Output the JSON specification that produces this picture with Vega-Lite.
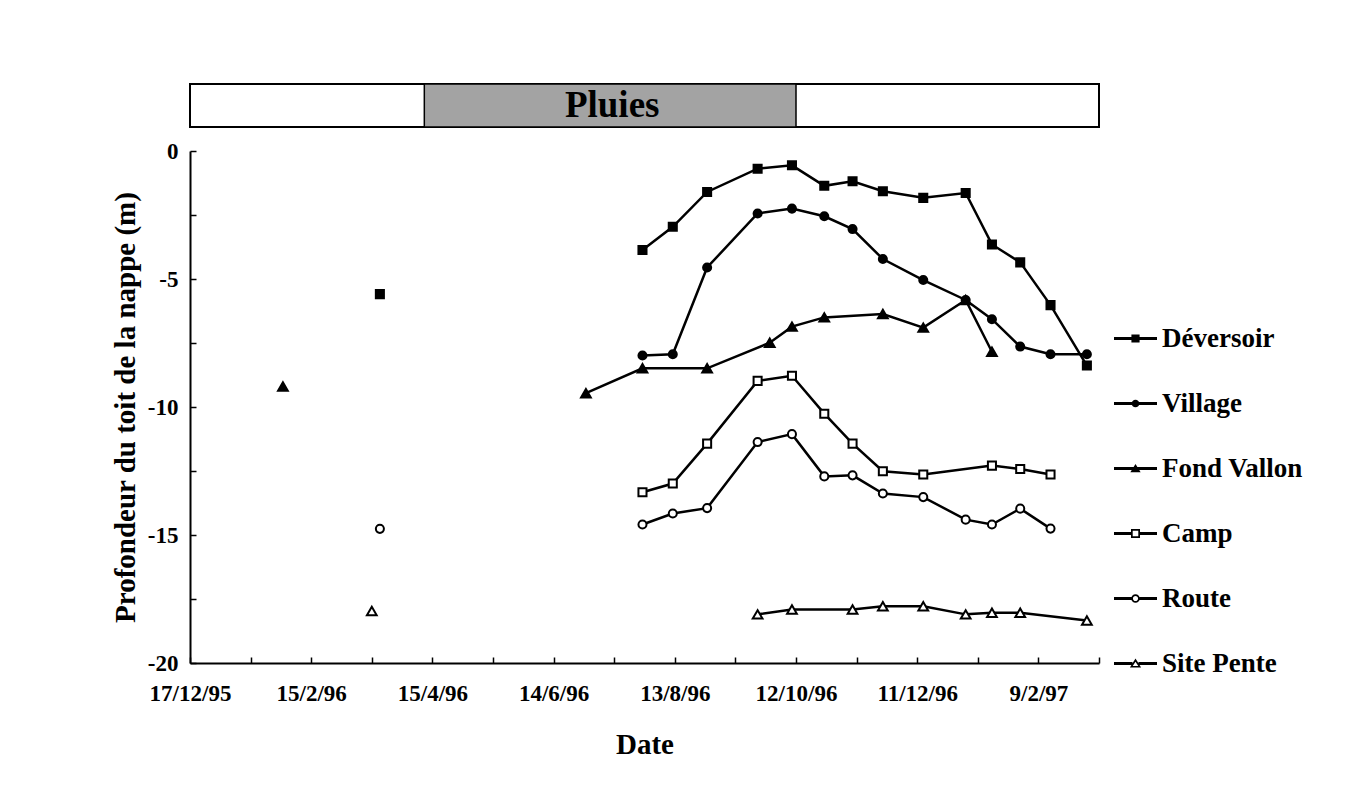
{
  "$schema": "https://vega.github.io/schema/vega-lite/v6.json",
  "background": "white",
  "padding": {"left": 111, "top": 82, "right": 5, "bottom": 5},
  "config": {
    "font": "Liberation Serif",
    "axis": {
      "labelFont": "Liberation Serif",
      "labelFontWeight": "bold",
      "titleFont": "Liberation Serif",
      "titleFontWeight": "bold",
      "labelColor": "black",
      "titleColor": "black",
      "domainColor": "black",
      "tickColor": "black",
      "grid": false
    },
    "legend": {
      "title": null,
      "symbolSize": 1849,
      "symbolOpacity": 1,
      "labelFont": "Liberation Serif",
      "labelFontWeight": "bold",
      "labelFontSize": 27,
      "labelColor": "black",
      "labelOffset": 4,
      "rowPadding": 16,
      "labelLimit": 300
    }
  },
  "datasets": {
    "nappe": [
      {"site": "Déversoir", "date": "1996-03-20", "profondeur": -5.59, "campagne": 1},
      {"site": "Déversoir", "date": "1996-07-28", "profondeur": -3.87, "campagne": 2},
      {"site": "Déversoir", "date": "1996-08-12", "profondeur": -2.96, "campagne": 2},
      {"site": "Déversoir", "date": "1996-08-29", "profondeur": -1.60, "campagne": 2},
      {"site": "Déversoir", "date": "1996-09-23", "profondeur": -0.69, "campagne": 2},
      {"site": "Déversoir", "date": "1996-10-10", "profondeur": -0.56, "campagne": 2},
      {"site": "Déversoir", "date": "1996-10-26", "profondeur": -1.36, "campagne": 2},
      {"site": "Déversoir", "date": "1996-11-09", "profondeur": -1.18, "campagne": 2},
      {"site": "Déversoir", "date": "1996-11-24", "profondeur": -1.57, "campagne": 2},
      {"site": "Déversoir", "date": "1996-12-14", "profondeur": -1.83, "campagne": 2},
      {"site": "Déversoir", "date": "1997-01-04", "profondeur": -1.64, "campagne": 2},
      {"site": "Déversoir", "date": "1997-01-17", "profondeur": -3.65, "campagne": 2},
      {"site": "Déversoir", "date": "1997-01-31", "profondeur": -4.35, "campagne": 2},
      {"site": "Déversoir", "date": "1997-02-15", "profondeur": -6.02, "campagne": 2},
      {"site": "Déversoir", "date": "1997-03-05", "profondeur": -8.38, "campagne": 2},
      {"site": "Village", "date": "1996-07-28", "profondeur": -7.99, "campagne": 2},
      {"site": "Village", "date": "1996-08-12", "profondeur": -7.94, "campagne": 2},
      {"site": "Village", "date": "1996-08-29", "profondeur": -4.55, "campagne": 2},
      {"site": "Village", "date": "1996-09-23", "profondeur": -2.44, "campagne": 2},
      {"site": "Village", "date": "1996-10-10", "profondeur": -2.25, "campagne": 2},
      {"site": "Village", "date": "1996-10-26", "profondeur": -2.55, "campagne": 2},
      {"site": "Village", "date": "1996-11-09", "profondeur": -3.05, "campagne": 2},
      {"site": "Village", "date": "1996-11-24", "profondeur": -4.22, "campagne": 2},
      {"site": "Village", "date": "1996-12-14", "profondeur": -5.04, "campagne": 2},
      {"site": "Village", "date": "1997-01-04", "profondeur": -5.82, "campagne": 2},
      {"site": "Village", "date": "1997-01-17", "profondeur": -6.57, "campagne": 2},
      {"site": "Village", "date": "1997-01-31", "profondeur": -7.64, "campagne": 2},
      {"site": "Village", "date": "1997-02-15", "profondeur": -7.94, "campagne": 2},
      {"site": "Village", "date": "1997-03-05", "profondeur": -7.94, "campagne": 2},
      {"site": "Fond Vallon", "date": "1996-02-01", "profondeur": -9.20, "campagne": 1},
      {"site": "Fond Vallon", "date": "1996-06-30", "profondeur": -9.46, "campagne": 2},
      {"site": "Fond Vallon", "date": "1996-07-28", "profondeur": -8.49, "campagne": 2},
      {"site": "Fond Vallon", "date": "1996-08-29", "profondeur": -8.49, "campagne": 2},
      {"site": "Fond Vallon", "date": "1996-09-29", "profondeur": -7.49, "campagne": 2},
      {"site": "Fond Vallon", "date": "1996-10-10", "profondeur": -6.86, "campagne": 2},
      {"site": "Fond Vallon", "date": "1996-10-26", "profondeur": -6.50, "campagne": 2},
      {"site": "Fond Vallon", "date": "1996-11-24", "profondeur": -6.37, "campagne": 2},
      {"site": "Fond Vallon", "date": "1996-12-14", "profondeur": -6.90, "campagne": 2},
      {"site": "Fond Vallon", "date": "1997-01-04", "profondeur": -5.82, "campagne": 2},
      {"site": "Fond Vallon", "date": "1997-01-17", "profondeur": -7.84, "campagne": 2},
      {"site": "Camp", "date": "1996-07-28", "profondeur": -13.33, "campagne": 2},
      {"site": "Camp", "date": "1996-08-12", "profondeur": -12.99, "campagne": 2},
      {"site": "Camp", "date": "1996-08-29", "profondeur": -11.43, "campagne": 2},
      {"site": "Camp", "date": "1996-09-23", "profondeur": -8.98, "campagne": 2},
      {"site": "Camp", "date": "1996-10-10", "profondeur": -8.78, "campagne": 2},
      {"site": "Camp", "date": "1996-10-26", "profondeur": -10.26, "campagne": 2},
      {"site": "Camp", "date": "1996-11-09", "profondeur": -11.43, "campagne": 2},
      {"site": "Camp", "date": "1996-11-24", "profondeur": -12.51, "campagne": 2},
      {"site": "Camp", "date": "1996-12-14", "profondeur": -12.64, "campagne": 2},
      {"site": "Camp", "date": "1997-01-17", "profondeur": -12.29, "campagne": 2},
      {"site": "Camp", "date": "1997-01-31", "profondeur": -12.42, "campagne": 2},
      {"site": "Camp", "date": "1997-02-15", "profondeur": -12.64, "campagne": 2},
      {"site": "Route", "date": "1996-03-20", "profondeur": -14.76, "campagne": 1},
      {"site": "Route", "date": "1996-07-28", "profondeur": -14.59, "campagne": 2},
      {"site": "Route", "date": "1996-08-12", "profondeur": -14.16, "campagne": 2},
      {"site": "Route", "date": "1996-08-29", "profondeur": -13.95, "campagne": 2},
      {"site": "Route", "date": "1996-09-23", "profondeur": -11.37, "campagne": 2},
      {"site": "Route", "date": "1996-10-10", "profondeur": -11.06, "campagne": 2},
      {"site": "Route", "date": "1996-10-26", "profondeur": -12.71, "campagne": 2},
      {"site": "Route", "date": "1996-11-09", "profondeur": -12.67, "campagne": 2},
      {"site": "Route", "date": "1996-11-24", "profondeur": -13.38, "campagne": 2},
      {"site": "Route", "date": "1996-12-14", "profondeur": -13.52, "campagne": 2},
      {"site": "Route", "date": "1997-01-04", "profondeur": -14.40, "campagne": 2},
      {"site": "Route", "date": "1997-01-17", "profondeur": -14.59, "campagne": 2},
      {"site": "Route", "date": "1997-01-31", "profondeur": -13.97, "campagne": 2},
      {"site": "Route", "date": "1997-02-15", "profondeur": -14.75, "campagne": 2},
      {"site": "Site Pente", "date": "1996-03-16", "profondeur": -17.97, "campagne": 1},
      {"site": "Site Pente", "date": "1996-09-23", "profondeur": -18.10, "campagne": 2},
      {"site": "Site Pente", "date": "1996-10-10", "profondeur": -17.91, "campagne": 2},
      {"site": "Site Pente", "date": "1996-11-09", "profondeur": -17.91, "campagne": 2},
      {"site": "Site Pente", "date": "1996-11-24", "profondeur": -17.78, "campagne": 2},
      {"site": "Site Pente", "date": "1996-12-14", "profondeur": -17.78, "campagne": 2},
      {"site": "Site Pente", "date": "1997-01-04", "profondeur": -18.10, "campagne": 2},
      {"site": "Site Pente", "date": "1997-01-17", "profondeur": -18.04, "campagne": 2},
      {"site": "Site Pente", "date": "1997-01-31", "profondeur": -18.04, "campagne": 2},
      {"site": "Site Pente", "date": "1997-03-05", "profondeur": -18.34, "campagne": 2}
    ],
    "pluies": [
      {"debut": "1996-04-11", "fin": "1996-10-12", "milieu": "1996-07-13", "libelle": "Pluies"}
    ]
  },
  "spacing": 11,
  "vconcat": [
    {
      "width": 909,
      "height": 43,
      "view": {"stroke": "black", "strokeWidth": 2, "fill": "white"},
      "data": {"name": "pluies"},
      "layer": [
        {
          "mark": {"type": "rect", "fill": "#a3a3a3", "stroke": "black", "strokeWidth": 1.5},
          "encoding": {
            "x": {"field": "debut", "type": "temporal", "axis": null,
                  "scale": {"type": "utc", "domain": [{"year": 1995, "month": 12, "date": 17, "utc": true}, {"year": 1997, "month": 3, "date": 11, "utc": true}]}},
            "x2": {"field": "fin"}
          }
        },
        {
          "mark": {"type": "text", "font": "Liberation Serif", "fontWeight": "bold", "fontSize": 37, "color": "black", "baseline": "middle", "align": "center"},
          "encoding": {
            "x": {"field": "milieu", "type": "temporal", "axis": null,
                  "scale": {"type": "utc", "domain": [{"year": 1995, "month": 12, "date": 17, "utc": true}, {"year": 1997, "month": 3, "date": 11, "utc": true}]}},
            "text": {"field": "libelle"}
          }
        }
      ]
    },
    {
      "width": 909,
      "height": 512,
      "view": {"stroke": null},
      "data": {"name": "nappe"},
      "resolve": {"scale": {"shape": "independent"}},
      "encoding": {
        "x": {
          "field": "date", "type": "temporal", "title": "Date",
          "scale": {"type": "utc", "domain": [{"year": 1995, "month": 12, "date": 17, "utc": true}, {"year": 1997, "month": 3, "date": 11, "utc": true}]},
          "axis": {
            "values": [
              {"year": 1995, "month": 12, "date": 17, "utc": true},
              {"year": 1996, "month": 1, "date": 16, "utc": true},
              {"year": 1996, "month": 2, "date": 15, "utc": true},
              {"year": 1996, "month": 3, "date": 16, "utc": true},
              {"year": 1996, "month": 4, "date": 15, "utc": true},
              {"year": 1996, "month": 5, "date": 15, "utc": true},
              {"year": 1996, "month": 6, "date": 14, "utc": true},
              {"year": 1996, "month": 7, "date": 14, "utc": true},
              {"year": 1996, "month": 8, "date": 13, "utc": true},
              {"year": 1996, "month": 9, "date": 12, "utc": true},
              {"year": 1996, "month": 10, "date": 12, "utc": true},
              {"year": 1996, "month": 11, "date": 11, "utc": true},
              {"year": 1996, "month": 12, "date": 11, "utc": true},
              {"year": 1997, "month": 1, "date": 10, "utc": true},
              {"year": 1997, "month": 2, "date": 9, "utc": true},
              {"year": 1997, "month": 3, "date": 11, "utc": true}
            ],
            "labelExpr": "round((datum.value - utc(1995, 11, 17)) / 864e5) % 60 === 0 ? utcFormat(datum.value, '%-d/%-m/%y') : ''",
            "labelFlush": false,
            "labelOverlap": false,
            "labelFontSize": 23,
            "labelPadding": 25,
            "labelAngle": 0,
            "tickSize": -6,
            "tickWidth": 1.5,
            "domainWidth": 2,
            "titleFontSize": 29,
            "titlePadding": 25
          }
        },
        "y": {
          "field": "profondeur", "type": "quantitative",
          "title": "Profondeur du toit de la nappe (m)",
          "scale": {"domain": [-20, 0], "nice": false, "zero": false},
          "axis": {
            "values": [-20, -17.5, -15, -12.5, -10, -7.5, -5, -2.5, 0],
            "labelExpr": "datum.value % 5 === 0 ? '' + datum.value : ''",
            "labelFontSize": 23,
            "labelPadding": 18,
            "tickSize": -6,
            "tickWidth": 1.5,
            "domainWidth": 2,
            "titleFontSize": 29,
            "titlePadding": 7
          }
        }
      },
      "layer": [
        {
          "transform": [{"filter": "datum.campagne === 2"}],
          "mark": {"type": "line", "stroke": "black", "strokeWidth": 2.5},
          "encoding": {"detail": {"field": "site", "type": "nominal"}}
        },
        {
          "transform": [{"filter": "indexof(['Fond Vallon','Site Pente'], datum.site) < 0"}],
          "mark": {"type": "point", "filled": true, "opacity": 1, "stroke": "black", "strokeWidth": 2, "size": 65},
          "encoding": {
            "shape": {
              "field": "site", "type": "nominal",
              "scale": {"domain": ["Déversoir", "Village", "Fond Vallon", "Camp", "Route", "Site Pente"],
                        "range": ["square", "circle", "triangle-up", "square", "circle", "triangle-up"]},
              "legend": null
            },
            "fill": {
              "field": "site", "type": "nominal",
              "scale": {"domain": ["Déversoir", "Village", "Fond Vallon", "Camp", "Route", "Site Pente"],
                        "range": ["black", "black", "black", "white", "white", "white"]},
              "legend": null
            }
          }
        },
        {
          "transform": [{"filter": "indexof(['Fond Vallon','Site Pente'], datum.site) >= 0"}],
          "mark": {"type": "point", "filled": true, "opacity": 1, "stroke": "black", "strokeWidth": 2, "size": 95},
          "encoding": {
            "shape": {
              "field": "site", "type": "nominal",
              "scale": {"domain": ["Déversoir", "Village", "Fond Vallon", "Camp", "Route", "Site Pente"],
                        "range": ["square", "circle", "triangle-up", "square", "circle", "triangle-up"]},
              "legend": null
            },
            "fill": {
              "field": "site", "type": "nominal",
              "scale": {"domain": ["Déversoir", "Village", "Fond Vallon", "Camp", "Route", "Site Pente"],
                        "range": ["black", "black", "black", "white", "white", "white"]},
              "legend": null
            }
          }
        },
        {
          "transform": [{"filter": "datum.campagne === 0"}],
          "mark": {"type": "point", "filled": true, "fill": "black", "opacity": 1, "strokeWidth": 0},
          "encoding": {
            "shape": {
              "field": "site", "type": "nominal",
              "scale": {
                "domain": ["Déversoir", "Village", "Fond Vallon", "Camp", "Route", "Site Pente"],
                "range": [
                  "M-1,-0.07H-0.19V0.07H-1ZM0.19,-0.07H1V0.07H0.19ZM-0.19,-0.19H0.19V0.19H-0.19ZM0,-1L0,-1M0,1L0,1",
                  "M-1,-0.07H-0.17V0.07H-1ZM0.17,-0.07H1V0.07H0.17ZM-0.18,0A0.18,0.18 0 1,1 0.18,0A0.18,0.18 0 1,1 -0.18,0ZM0,-1L0,-1M0,1L0,1",
                  "M-1,-0.07H-0.05V0.07H-1ZM0.05,-0.07H1V0.07H0.05ZM0,-0.21L0.24,0.18H-0.24ZM0,-1L0,-1M0,1L0,1",
                  "M-1,-0.07H-0.21V0.07H-1ZM0.21,-0.07H1V0.07H0.21ZM-0.21,-0.21H0.21V0.21H-0.21ZM-0.13,-0.13V0.13H0.13V-0.13ZM0,-1L0,-1M0,1L0,1",
                  "M-1,-0.07H-0.19V0.07H-1ZM0.19,-0.07H1V0.07H0.19ZM-0.2,0A0.2,0.2 0 1,1 0.2,0A0.2,0.2 0 1,1 -0.2,0ZM-0.12,0A0.12,0.12 0 1,0 0.12,0A0.12,0.12 0 1,0 -0.12,0ZM0,-1L0,-1M0,1L0,1",
                  "M-1,-0.07H-0.14V0.07H-1ZM0.14,-0.07H1V0.07H0.14ZM0,-0.23L0.26,0.19H-0.26ZM0,-0.08L-0.13,0.12H0.13ZM0,-1L0,-1M0,1L0,1"
                ]
              },
              "legend": {"orient": "none", "legendX": 923, "legendY": 165}
            }
          }
        }
      ]
    }
  ]
}
